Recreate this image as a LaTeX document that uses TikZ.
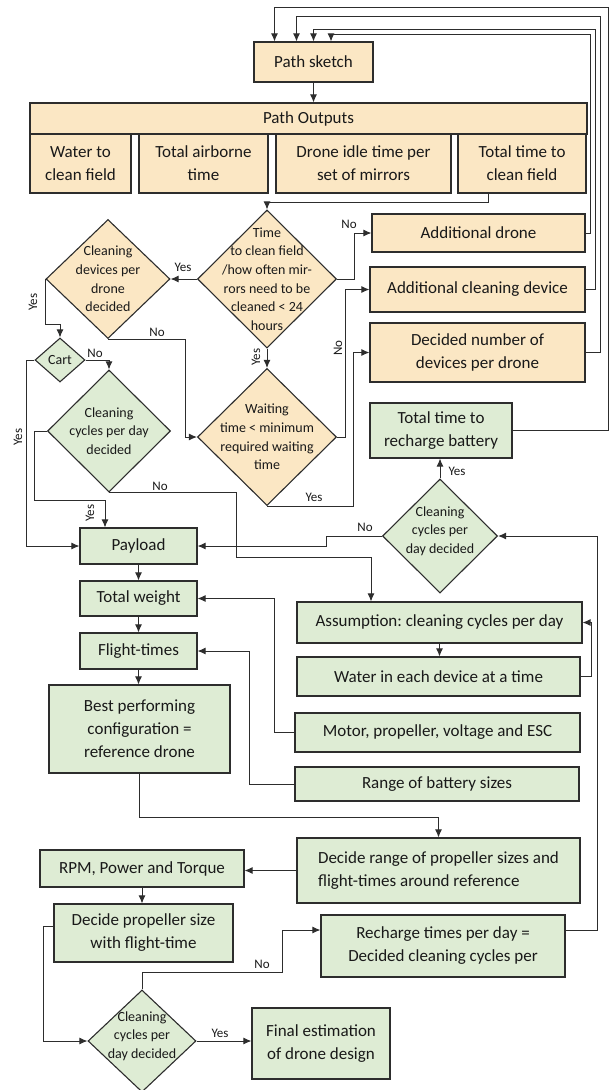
\documentclass[tikz,border=0pt]{standalone}
\usepackage{fontspec}
\setmainfont{Carlito}
\frenchspacing
\usetikzlibrary{arrows.meta,positioning,shapes.geometric}
\usepackage{xcolor}
\definecolor{fltan}{RGB}{251,231,196}
\definecolor{flgreen}{RGB}{222,236,212}
\definecolor{flline}{RGB}{45,45,45}
\tikzset{
    box/.style={
        draw=flline,line width=1.1pt,fill=#1,inner sep=0pt,
        align=center,text=black!90,font=\fontsize{17}{23}\selectfont
    },
    box/.default=fltan,
    dec/.style={
        diamond,draw=flline,line width=1.1pt,fill=#1,inner sep=0pt
    },
    dec/.default=flgreen,
    dtxt/.style={
        align=center,text=black!90,font=\fontsize{14}{18.7}\selectfont
    },
    lbl/.style={
        text=black!90,font=\fontsize{13}{15}\selectfont,inner sep=1pt
    },
    arrow/.style={
        -{Latex[length=8pt,width=7pt]},line width=1pt,draw=flline
    }
}

\begin{document}
\begin{tikzpicture}[x=1pt,y=-1pt]
\useasboundingbox (0,0) rectangle (612,1090);

% path planning part
\node[box,minimum width=119,minimum height=40] (ps) at (313.5,62) {Path sketch};
\node[box,minimum width=557,minimum height=31] (po) at (308.5,118.5) {Path Outputs};
\node[box,minimum width=101,minimum height=59] (o1) at (80.5,163.5) {Water to\\clean field};
\node[box,minimum width=129,minimum height=59] (o2) at (203.5,163.5) {Total airborne\\time};
\node[box,minimum width=175,minimum height=59] (o3) at (363.5,163.5) {Drone idle time per\\set of mirrors};
\node[box,minimum width=128,minimum height=59] (o4) at (522,163.5) {Total time to\\clean field};

\node[dec=fltan,minimum width=139,minimum height=138,
label={[dtxt]center:Time\\to clean field\\/how often mir-\\rors need to be\\cleaned < 24\\hours}]
(d1) at (267,279) {};
\node[dec=fltan,minimum width=124,minimum height=119,
label={[dtxt]center:Cleaning\\devices per\\drone\\decided}]
(d2) at (108,279) {};
\node[dec=fltan,minimum width=139,minimum height=137,
label={[dtxt]center:Waiting\\time < minimum\\required waiting\\time}]
(d3) at (267,437) {};

\node[box,minimum width=213,minimum height=38] (ad) at (478.5,233) {Additional drone};
\node[box,minimum width=215,minimum height=45] (ac) at (477.5,289.5) {Additional cleaning device};
\node[box,minimum width=215,minimum height=59] (dn) at (477.5,352.5) {Decided number of\\devices per drone};

% drone design part
\node[dec,minimum width=50,minimum height=44,
label={[dtxt]center:Cart}]
(cart) at (60,360) {};
\node[dec,minimum width=123,minimum height=122,
label={[dtxt]center:Cleaning\\cycles per day\\decided}]
(d4) at (109,431) {};
\node[dec,minimum width=115,minimum height=114,
label={[dtxt,yshift=5pt]center:Cleaning\\cycles per\\day decided}]
(d5) at (440,536) {};

\node[box=flgreen,minimum width=142,minimum height=55] (rb) at (441,430.5) {Total time to\\recharge battery};
\node[box=flgreen,minimum width=117,minimum height=36] (pl) at (138.5,546) {Payload};
\node[box=flgreen,minimum width=117,minimum height=35] (tw) at (138.5,598.5) {Total weight};
\node[box=flgreen,minimum width=117,minimum height=36] (ft) at (138.5,651) {Flight-times};
\node[box=flgreen,minimum width=181,minimum height=88] (bp) at (139.5,729) {Best performing\\configuration =\\reference drone};

\node[box=flgreen,minimum width=285,minimum height=41] (as) at (439.5,622.5) {Assumption: cleaning cycles per day};
\node[box=flgreen,minimum width=283,minimum height=39] (wd) at (438.5,676.5) {Water in each device at a time};
\node[box=flgreen,minimum width=285,minimum height=39] (mp) at (437.5,732.5) {Motor, propeller, voltage and ESC};
\node[box=flgreen,minimum width=284,minimum height=34] (rg) at (437,784) {Range of battery sizes};
\node[box=flgreen,minimum width=283,minimum height=65,align=left] (dr) at (438.5,870.5) {Decide range of propeller sizes and\\flight-times around reference};

\node[box=flgreen,minimum width=204,minimum height=37] (rpm) at (142,868.5) {RPM, Power and Torque};
\node[box=flgreen,minimum width=179,minimum height=58] (dp) at (143.5,933) {Decide propeller size\\with flight-time};
\node[box=flgreen,minimum width=244,minimum height=62] (rt) at (443,946) {Recharge times per day =\\Decided cleaning cycles per};
\node[dec,minimum width=108,minimum height=102,
label={[dtxt,yshift=5pt]center:Cleaning\\cycles per\\day decided}]
(d6) at (142,1041) {};
\node[box=flgreen,minimum width=138,minimum height=71] (fe) at (321,1043.5) {Final estimation\\of drone design};

% connectors
\draw[arrow] (rb.east) -| (608,7) -| ([xshift=-39]ps.north);
\draw[arrow] (dn.east) -| (600,16) -| ([xshift=-17]ps.north);
\draw[arrow] (ac.east) -| (595,29) -| (ps.north);
\draw[arrow] (ad.east) -| (590,34) -| ([xshift=17.5]ps.north);

\draw[arrow] (ps.south) -- (ps.south |- po.north);
\draw[arrow] ([xshift=-34]o4.south) -- ++(0,9) -| (d1.north);
\draw[arrow] (d1.east) -- ++(17,0) |- (ad.west);
\draw[arrow] (d1.west) -- (d2.east);
\draw[arrow] (d1.south) -- (d3.north);
\draw[arrow] (d3.east) -- ++(8,0) |- (ac.west);
\draw[arrow] (d3.south) -- ++(86,0) |- (dn.west);
\draw[arrow] (d2.south) -- ++(77,0) |- (d3.west);
\draw[arrow] (d2.west) -- ++(0,45) -| (cart.north);
\draw[arrow] (cart.east) -| (d4.north);
\draw[arrow] (cart.west) -- ++(-8,0) |- (pl.west);
\draw[arrow] (d4.west) -- ++(-12,0) -- ++(0,69) -| ([xshift=-33.5]pl.north);
\draw[arrow] (d4.south) -- ++(127,0) -- ++(0,65) -| ([xshift=-68.5]as.north);

\draw[arrow] (d5.north) -- (d5.north |- rb.south);
\draw[arrow] (d5.west) -- ++(-55,0) |- (pl.east);
\draw[arrow] ([yshift=16pt]rt.east) -- ++(32,0) |- (d5.east);
\draw[arrow] (as.south) -- (as.south |- wd.north);
\draw[arrow] (wd.east) -- ++(11,0) |- (as.east);

\draw[arrow] (pl.south) -- (pl.south |- tw.north);
\draw[arrow] (tw.south) -- (tw.south |- ft.north);
\draw[arrow] (ft.south) -- (ft.south |- bp.north);
\draw[arrow] (mp.west) -- ++(-20,0) |- (tw.east);
\draw[arrow] (rg.west) -- ++(-45,0) |- (ft.east);
\draw[arrow] (bp.south) -- ++(0,44) -| (dr.north);
\draw[arrow] (dr.west) -- (dr.west -| rpm.east);
\draw[arrow] (rpm.south) -- (rpm.south |- dp.north);
\draw[arrow] ([yshift=7pt]dp.west) -- ++(-10,0) |- (d6.west);
\draw[arrow] (d6.north) -- ++(0,-17) -- ++(140,0) |- ([yshift=16pt]rt.west);
\draw[arrow] (d6.east) -- (d6.east -| fe.west);

% yes / no labels
\node[lbl] (n1) at (349,224) {No};
\node[lbl] (y1) at (183,267) {Yes};
\node[lbl,rotate=90] (y2) at (256,357) {Yes};
\node[lbl,rotate=90] (n2) at (338,348) {No};
\node[lbl] (y3) at (314,497) {Yes};
\node[lbl] (n3) at (157,332) {No};
\node[lbl,rotate=90] (y4) at (33,302) {Yes};
\node[lbl] (n4) at (95,353) {No};
\node[lbl,rotate=90] (y5) at (18,437) {Yes};
\node[lbl,rotate=90] (y6) at (90,513) {Yes};
\node[lbl] (n5) at (160,486) {No};
\node[lbl] (y7) at (457,471) {Yes};
\node[lbl] (n6) at (365,527) {No};
\node[lbl] (n7) at (262,964) {No};
\node[lbl] (y8) at (220,1033) {Yes};

\end{tikzpicture}
\end{document}
